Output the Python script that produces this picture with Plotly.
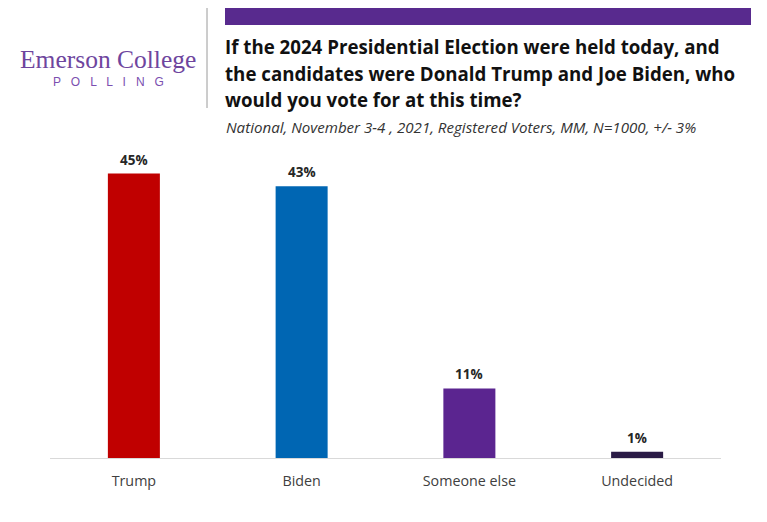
import plotly.graph_objects as go

categories = ["Trump", "Biden", "Someone else", "Undecided"]
values = [45, 43, 11, 1]
colors = ["#C00000", "#0066B3", "#5B2590", "#2A1B45"]

title_lines = [
    "If the 2024 Presidential Election were held today, and",
    "the candidates were Donald Trump and Joe Biden, who",
    "would you vote for at this time?",
]
subtitle = "National, November 3-4 , 2021, Registered Voters, MM, N=1000, +/- 3%"

W, H = 767, 522
ML, MR, MT, MB = 50, 46, 142, 64
PW = W - ML - MR
PH = H - MT - MB


def px(x):
    return (x - ML) / PW


def py(y):
    return (H - MB - y) / PH


fig = go.Figure(
    go.Bar(
        x=categories,
        y=values,
        marker=dict(color=colors, line=dict(width=0)),
        cliponaxis=False,
    )
)

shapes = [
    dict(type="rect", xref="paper", yref="paper", x0=px(225), x1=px(751), y0=py(25), y1=py(8),
         fillcolor="#582A8E", line=dict(width=0)),
    dict(type="line", xref="paper", yref="paper", x0=px(207), x1=px(207), y0=py(108), y1=py(8),
         line=dict(color="#9A9A9A", width=1)),
]

annotations = []
for c, v in zip(categories, values):
    annotations.append(dict(
        x=c, y=v, xref="x", yref="y", xanchor="center", yanchor="bottom", yshift=3,
        text=f"<b>{v}%</b>", showarrow=False,
        font=dict(family="Open Sans", size=13.5, color="#262626"),
    ))
for i, line in enumerate(title_lines):
    annotations.append(dict(
        xref="paper", yref="paper", x=px(223), y=py(47 + i * 26.5), xanchor="left", yanchor="middle",
        text=f"<b>{line}</b>", showarrow=False,
        font=dict(family="Open Sans", size=18.7, color="#111111"),
    ))
annotations.append(dict(
    xref="paper", yref="paper", x=px(224), y=py(127), xanchor="left", yanchor="middle",
    text=f"<i>{subtitle}</i>", showarrow=False,
    font=dict(family="Open Sans", size=15.1, color="#333333"),
))
annotations.append(dict(
    xref="paper", yref="paper", x=px(108), y=py(60), xanchor="center", yanchor="middle",
    text="Emerson College", showarrow=False,
    font=dict(family="Liberation Serif", size=25.5, color="#6E459E"),
))
annotations.append(dict(
    xref="paper", yref="paper", x=px(108), y=py(82), xanchor="center", yanchor="middle",
    text="P   O   L   L   I   N   G", showarrow=False,
    font=dict(family="Liberation Sans", size=12, color="#7B4FB0"),
))

fig.update_layout(
    width=W, height=H,
    margin=dict(l=ML, r=MR, t=MT, b=MB),
    paper_bgcolor="white", plot_bgcolor="white",
    bargap=0.69,
    showlegend=False,
    shapes=shapes,
    annotations=annotations,
    xaxis=dict(showline=True, linecolor="#D9D9D9", linewidth=1, ticks="", ticklabelstandoff=10,
               tickfont=dict(family="Open Sans", size=14.3, color="#404040"), showgrid=False),
    yaxis=dict(range=[0, 50], visible=False, showgrid=False, zeroline=False),
)

fig.write_html("out.html")
